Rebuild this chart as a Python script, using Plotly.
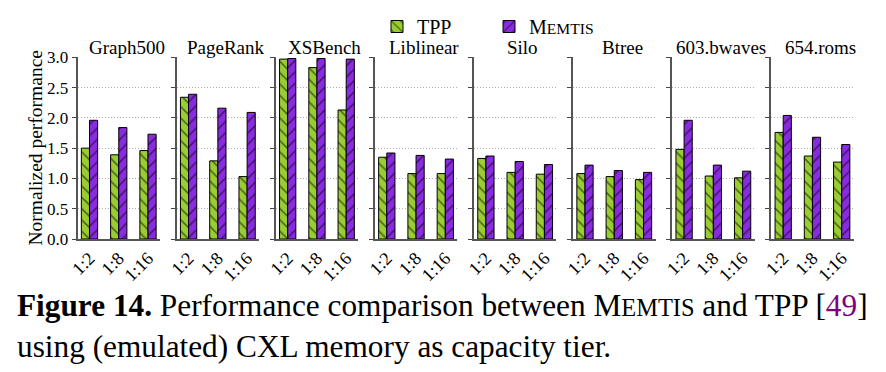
import plotly.graph_objects as go

W, H = 886, 372

benchmarks = ["Graph500", "PageRank", "XSBench", "Liblinear", "Silo", "Btree", "603.bwaves", "654.roms"]
ratios = ["1:2", "1:8", "1:16"]

tpp = [
    [1.50, 1.39, 1.46],
    [2.34, 1.29, 1.03],
    [2.97, 2.83, 2.13],
    [1.35, 1.08, 1.08],
    [1.33, 1.10, 1.07],
    [1.08, 1.03, 0.98],
    [1.48, 1.04, 1.01],
    [1.76, 1.37, 1.27],
]
memtis = [
    [1.96, 1.84, 1.73],
    [2.39, 2.16, 2.09],
    [2.98, 2.98, 2.97],
    [1.42, 1.38, 1.32],
    [1.37, 1.28, 1.23],
    [1.22, 1.13, 1.10],
    [1.96, 1.22, 1.12],
    [2.04, 1.68, 1.56],
]
y_ticks = [0.0, 0.5, 1.0, 1.5, 2.0, 2.5, 3.0]

GREEN = "#9acd32"
PURPLE = "#8a2be2"
FONT = "Liberation Serif"
MEMTIS_SC = "M<span style='font-size:0.78em'>EMTIS</span>"

fig = go.Figure()

plot_top, plot_bot = 57.3, 239.0
ydom = [1 - plot_bot / H, 1 - plot_top / H]

for i, name in enumerate(benchmarks):
    left = 77.5 + 99.1 * i
    right = left + 82.5
    sfx = "" if i == 0 else str(i + 1)
    fig.add_trace(go.Bar(
        x=ratios, y=tpp[i], name="TPP", showlegend=(i == 0), legendgroup="tpp",
        xaxis="x" + sfx, yaxis="y" + sfx,
        marker=dict(color=GREEN, line=dict(color="black", width=1),
                    pattern=dict(shape="\\", fgcolor="black", bgcolor=GREEN, size=8, solidity=0.2)),
    ))
    fig.add_trace(go.Bar(
        x=ratios, y=memtis[i], name=MEMTIS_SC, showlegend=(i == 0), legendgroup="memtis",
        xaxis="x" + sfx, yaxis="y" + sfx,
        marker=dict(color=PURPLE, line=dict(color="black", width=1),
                    pattern=dict(shape="/", fgcolor="black", bgcolor=PURPLE, size=8, solidity=0.2)),
    ))
    xa = dict(domain=[left / W, right / W], anchor="y" + sfx, range=[-0.41, 2.41],
              type="category", showline=True, linecolor="#555", linewidth=1.5,
              ticks="", tickangle=-45, showgrid=False, zeroline=False, automargin=False,
              tickfont=dict(family=FONT, size=18, color="black"))
    ya = dict(domain=ydom, anchor="x" + sfx, range=[0, 3.0], tickvals=y_ticks,
              ticktext=[f"{v:.1f}" for v in y_ticks],
              showticklabels=(i == 0), ticks="outside", ticklen=4, tickcolor="#444",
              showline=True, linecolor="#555", linewidth=1.5,
              showgrid=True, gridcolor="#b0b0b0", griddash="1px,2px", gridwidth=1,
              zeroline=False, automargin=False,
              tickfont=dict(family=FONT, size=17, color="black"))
    key = "" if i == 0 else str(i + 1)
    fig.layout["xaxis" + key] = xa
    fig.layout["yaxis" + key] = ya
    fig.add_annotation(text=name, x=(left + 49) / W, y=1 - 47 / H, xref="paper", yref="paper",
                       showarrow=False, xanchor="center", yanchor="middle",
                       font=dict(family=FONT, size=19, color="black"))

fig.add_annotation(text="Normalized performance", x=34.5 / W, y=1 - 148 / H, xref="paper", yref="paper",
                   showarrow=False, textangle=-90, xanchor="center", yanchor="middle",
                   font=dict(family=FONT, size=19.5, color="black"))

fig.add_annotation(
    text="<b>Figure 14.</b> Performance comparison between " + MEMTIS_SC +
         " and TPP [<span style='color:#800080'>49</span>]",
    x=15 / W, y=1 - 305 / H, xref="paper", yref="paper", showarrow=False,
    xanchor="left", yanchor="middle", font=dict(family=FONT, size=31.3, color="black"))
fig.add_annotation(
    text="using (emulated) CXL memory as capacity tier.",
    x=15 / W, y=1 - 346 / H, xref="paper", yref="paper", showarrow=False,
    xanchor="left", yanchor="middle", font=dict(family=FONT, size=31.3, color="black"))

fig.update_layout(
    width=W, height=H, margin=dict(l=0, r=0, t=0, b=0, pad=0, autoexpand=False),
    paper_bgcolor="white", plot_bgcolor="white",
    barmode="group", bargap=0.443, bargroupgap=0,
    legend=dict(orientation="h", x=377 / W, y=1 - 7 / H, xanchor="left", yanchor="top",
                font=dict(family=FONT, size=20, color="black"),
                entrywidth=67, entrywidthmode="pixels", bgcolor="rgba(0,0,0,0)"),
    font=dict(family=FONT),
)

fig.write_html("out.html", config={"displayModeBar": False},
               post_script="document.body.style.margin='0';")
